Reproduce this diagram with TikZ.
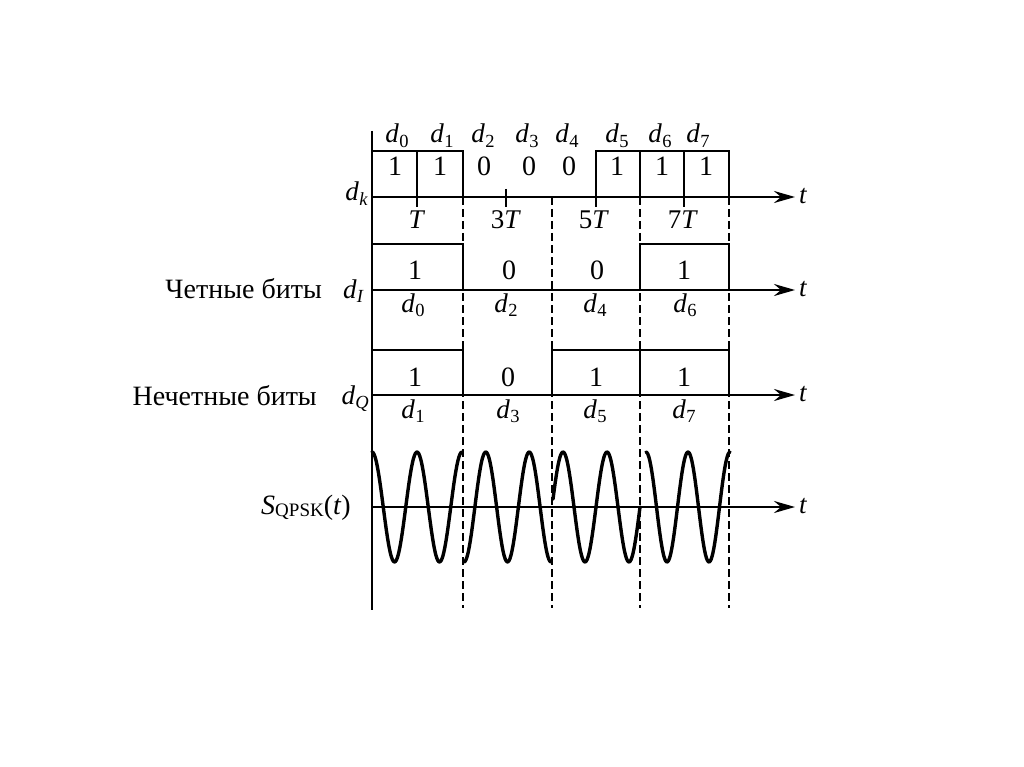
\documentclass[tikz,border=0pt]{standalone}
\usepackage{fontspec}
\setmainfont{Liberation Serif}
\usetikzlibrary{arrows.meta}
\newcommand\dsub[1]{\textit{d}\kern0.3pt\raisebox{-4.5pt}{\fontsize{18.5}{18.5}\selectfont #1}}
\tikzset{
  vaxis/.style={line width=2.2pt},
  haxis/.style={line width=2.5pt, -{Stealth[length=21pt,width=12pt,inset=7pt]}},
  boxline/.style={line width=1.6pt},
  dashline/.style={line width=2.1pt, dash pattern=on 8pt off 4pt},
  wave/.style={line width=3.4pt, line join=round, line cap=round},
  lab/.style={font=\fontsize{27}{27}\selectfont, inner sep=0pt, anchor=base},
  dig/.style={font=\fontsize{28}{28}\selectfont, inner sep=0pt, anchor=base},
  rus/.style={font=\fontsize{28}{28}\selectfont, inner sep=0pt, anchor=base east},
  tl/.style={font=\fontsize{27}{27}\selectfont\itshape, inner sep=0pt, anchor=west, xshift=4pt, yshift=1pt},
}
\begin{document}
\begin{tikzpicture}[x=1pt,y=-1pt]
\useasboundingbox[fill=white] (0,0) rectangle (1024,767);

% vertical axis
\coordinate (vtop) at (372,131);
\coordinate (vbot) at (372,610);
\draw[vaxis] (vtop) -- (vbot);

% dashed period boundaries
\foreach \xx/\nm in {463/a,552/b,640/c,729/d}{
  \coordinate (ds\nm) at (\xx,197);
  \coordinate (de\nm) at (\xx,608);
  \draw[dashline] (ds\nm) -- (de\nm);
}

% horizontal time axes
\foreach \yy/\nm in {197/k,290/i,395/q,507/s}{
  \coordinate (ax\nm) at (372,\yy);
  \coordinate (tip\nm) at (795,\yy);
  \draw[haxis] (ax\nm) -- (tip\nm);
  \node[tl] (t\nm) at (tip\nm) {t};
}

% d_k row
\draw[boxline] (372,151) -- (463,151) -- (463,197);
\draw[boxline] (417,151) -- (417,207);
\draw[boxline] (506,189) -- (506,207);
\draw[boxline] (596,207) -- (596,151) -- (729,151) -- (729,197);
\draw[boxline] (640,151) -- (640,197);
\draw[boxline] (684,151) -- (684,207);

\foreach \xx/\i in {397/0,442/1,483/2,527/3,567/4,617/5,660/6,698/7}{
  \node[lab] (top\i) at (\xx,143) {\dsub{\i}};
}
\foreach \xx/\v [count=\n] in {395/1,440/1,484/0,529/0,569/0,617/1,662/1,706/1}{
  \node[dig] (kd\n) at (\xx,176) {\v};
}
\node[lab] (T1) at (417,229) {\textit{T}};
\node[lab] (T3) at (506,229) {3\textit{T}};
\node[lab] (T5) at (594,229) {5\textit{T}};
\node[lab] (T7) at (683,229) {7\textit{T}};
\node[lab, anchor=base east] (dk) at (368,201) {\dsub{\textit{k}}};

% d_I row (even bits)
\draw[boxline] (372,244) -- (463,244) -- (463,290);
\draw[boxline] (640,290) -- (640,244) -- (729,244) -- (729,290);
\foreach \xx/\v [count=\n] in {415/1,509/0,597/0,684/1}{
  \node[dig] (id\n) at (\xx,279) {\v};
}
\foreach \xx/\i in {413/0,506/2,595/4,685/6}{
  \node[lab] (bi\i) at (\xx,312) {\dsub{\i}};
}
\node[rus] (even) at (322,298) {Четные биты};
\node[lab, anchor=base east] (dI) at (364,298) {\dsub{\textit{I}}};

% d_Q row (odd bits)
\draw[boxline] (372,350) -- (463,350) -- (463,395);
\draw[boxline] (552,395) -- (552,350) -- (729,350) -- (729,395);
\draw[boxline] (640,350) -- (640,395);
\foreach \xx/\v [count=\n] in {415/1,508/0,596/1,684/1}{
  \node[dig] (qd\n) at (\xx,386) {\v};
}
\foreach \xx/\i in {413/1,508/3,595/5,684/7}{
  \node[lab] (bq\i) at (\xx,418) {\dsub{\i}};
}
\node[rus] (odd) at (317,405) {Нечетные биты};
\node[lab, anchor=base east] (dQ) at (369,404) {\dsub{\textit{Q}}};

% QPSK signal
\node[lab, anchor=base east, font=\fontsize{28}{28}\selectfont] (sq) at (351,514)
  {\textit{S}\raisebox{-2pt}{\fontsize{19}{19}\selectfont QPSK}(\textit{t})};
\draw[wave] plot[domain=0:90, samples=90, smooth] ({372+\x}, {507-55*cos(8*\x)});
\draw[wave] plot[domain=0:87, samples=90, smooth] ({464+\x}, {507+55*cos(8.2759*\x)});
\draw[wave] plot[domain=0:87, samples=90, smooth] ({553+\x}, {507-55*cos(8.1818*(\x-10))});
\draw[wave] plot[domain=0:84, samples=90, smooth] ({646+\x}, {507-55*cos(8.5714*\x)});
\end{tikzpicture}
\end{document}
